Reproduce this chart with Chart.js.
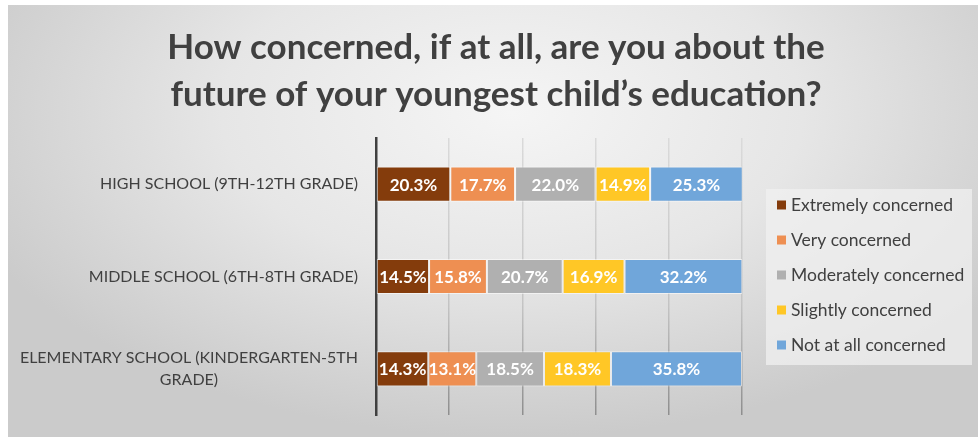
<!DOCTYPE html>
<html>
<head>
<meta charset="utf-8">
<script src="https://cdn.jsdelivr.net/npm/chart.js@4"></script>
<style>
  html, body { margin: 0; padding: 0; background: #fff; }
  #wrap {
    position: absolute; left: 8px; top: 5px; width: 970px; height: 432px;
    background: radial-gradient(ellipse 60% 75% at 52% 25%, #f5f5f5 0%, #e6e6e6 50%, #cbcbcb 100%);
  }
  #chart { position: absolute; left: 0; top: 0; }
</style>
</head>
<body>
<div id="wrap"></div>
<canvas id="chart" width="978" height="441"></canvas>
<script>
// --- data ---
const categories = [
  ['HIGH SCHOOL (9TH-12TH GRADE)'],
  ['MIDDLE SCHOOL (6TH-8TH GRADE)'],
  ['ELEMENTARY SCHOOL (KINDERGARTEN-5TH', 'GRADE)']
];
const seriesNames = ['Extremely concerned', 'Very concerned', 'Moderately concerned', 'Slightly concerned', 'Not at all concerned'];
const extremely = [20.3, 14.5, 14.3];
const very = [17.7, 15.8, 13.1];
const moderately = [22.0, 20.7, 18.5];
const slightly = [14.9, 16.9, 18.3];
const notAtAll = [25.3, 32.2, 35.8];
const xTicks = [0, 20, 40, 60, 80, 100];
const titleLines = ['How concerned, if at all, are you about the', 'future of your youngest child\u2019s education?'];

const colors = ['#843C0C', '#EE8F52', '#B0B0B0', '#FFC726', '#70A6DA'];
const seriesValues = [extremely, very, moderately, slightly, notAtAll];

const FONT = 'Lato, "Open Sans", sans-serif';

// custom drawing: title, category labels, value labels, legend
const decor = {
  id: 'decor',
  afterDatasetsDraw(chart) {
    const ctx = chart.ctx;
    // value labels
    ctx.save();
    ctx.fillStyle = '#fff';
    ctx.font = 'bold 17px ' + FONT;
    ctx.textAlign = 'center';
    ctx.textBaseline = 'middle';
    chart.data.datasets.forEach((ds, i) => {
      chart.getDatasetMeta(i).data.forEach((bar, j) => {
        const cx = (bar.x + bar.base) / 2;
        ctx.fillText(ds.data[j].toFixed(1) + '%', cx, bar.y + 1);
      });
    });
    ctx.restore();
  },
  afterDraw(chart) {
    const ctx = chart.ctx;
    const yScale = chart.scales.y;
    ctx.save();
    // title
    ctx.fillStyle = '#404040';
    ctx.font = 'bold 35px ' + FONT;
    ctx.textAlign = 'center';
    ctx.textBaseline = 'middle';
    titleLines.forEach((t, i) => ctx.fillText(t, 496, 48 + i * 47));

    // category labels, block right aligned, lines centered in block
    ctx.font = '16px ' + FONT;
    ctx.fillStyle = '#404040';
    categories.forEach((lines, i) => {
      const yc = yScale.getPixelForValue(i);
      const w = Math.max(...lines.map(l => ctx.measureText(l).width));
      const right = chart.chartArea.left - 18;
      lines.forEach((l, k) => {
        const y = yc + (k - (lines.length - 1) / 2) * 22;
        ctx.fillText(l, right - w / 2, y);
      });
    });

    // legend
    const lx = 766, ly = 189, lw = 206, lh = 176;
    ctx.fillStyle = 'rgba(240,240,240,0.75)';
    ctx.fillRect(lx, ly, lw, lh);
    ctx.font = '17.5px ' + FONT;
    ctx.textAlign = 'left';
    seriesNames.forEach((name, i) => {
      const y = ly + 16 + i * 35;
      ctx.fillStyle = colors[i];
      ctx.fillRect(lx + 11, y - 4.5, 9, 9);
      ctx.fillStyle = '#404040';
      ctx.fillText(name, lx + 25, y);
    });
    ctx.restore();
  }
};

new Chart(document.getElementById('chart'), {
  type: 'bar',
  data: {
    labels: categories,
    datasets: seriesNames.map((name, i) => ({
      label: name,
      data: seriesValues[i],
      backgroundColor: colors[i],
      borderColor: 'rgba(255,255,255,0.55)',
      borderWidth: 1,
      borderSkipped: false,
      barPercentage: 0.38,
      categoryPercentage: 1
    }))
  },
  options: {
    indexAxis: 'y',
    responsive: false,
    animation: false,
    layout: { padding: { left: 368, right: 236, top: 138, bottom: 26 } },
    plugins: { legend: { display: false }, title: { display: false }, tooltip: { enabled: false } },
    scales: {
      x: {
        stacked: true, min: 0, max: 100,
        afterBuildTicks: (s) => { s.ticks = xTicks.map(v => ({ value: v })); },
        ticks: { display: false },
        border: { display: false },
        grid: {
          drawTicks: false,
          lineWidth: 1.5,
          color: (c) => {
            const area = c.chart.chartArea;
            if (!area) return '#d0d0d0';
            const g = c.chart.ctx.createLinearGradient(0, area.top, 0, area.bottom);
            g.addColorStop(0, '#dadada');
            g.addColorStop(0.6, '#c4c4c4');
            g.addColorStop(1, '#8e8e8e');
            return g;
          }
        }
      },
      y: {
        stacked: true,
        ticks: { display: false },
        grid: { display: false },
        border: { display: true, color: '#404040', width: 2.5 }
      }
    }
  },
  plugins: [decor]
});
</script>
</body>
</html>
